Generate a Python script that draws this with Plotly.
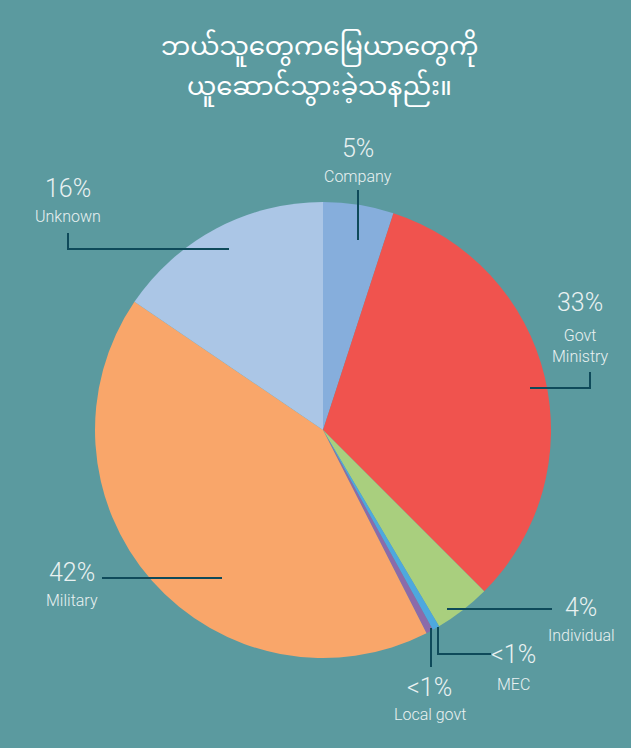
import plotly.graph_objects as go

W, H = 631, 748

categories = ["Company", "Govt<br>Ministry", "Individual", "MEC", "Local govt", "Military", "Unknown"]
values = [5, 32.5, 4, 0.5, 0.5, 42, 15.5]
pct_labels = ["5%", "33%", "4%", "<1%", "<1%", "42%", "16%"]
colors = ["#86AEDC", "#F0534E", "#A9CF7E", "#4EA8DE", "#8B6BAA", "#F9A66A", "#ABC6E6"]

title_lines = ["ဘယ်သူတွေကမြေယာတွေကို", "ယူဆောင်သွားခဲ့သနည်း။"]

BG = "#5B9A9F"
LEAD = "#0E4A5A"
TXT = "#E9F1F1"
FONT = "Roboto, sans-serif"

# pie geometry in pixels
cx, cy, r = 323, 430, 228

def px(x):
    return x / W

def py(y):
    return 1 - y / H

fig = go.Figure(go.Pie(
    labels=categories, values=values, sort=False, direction="clockwise",
    rotation=0, marker=dict(colors=colors, line=dict(width=0)),
    textinfo="none", hoverinfo="none", showlegend=False,
    domain=dict(x=[px(cx - r), px(cx + r)], y=[py(cy + r), py(cy - r)]),
))

# label placement (pixels): (pct x, pct y, name y)
label_pos = [
    (358, 148, 177),
    (580, 302, 346),
    (581, 607, 635),
    (513, 654, 684),
    (430, 687, 714),
    (72, 572, 600),
    (68, 188, 216),
]
# leader paths in pixels (elbow points), ending at pie anchor
leader_paths = [
    [(358, 190), (358, 240)],
    [(590, 372), (590, 388), (530, 388)],
    [(552, 609), (447, 609)],
    [(491, 654), (438, 654), (438, 627)],
    [(431, 667), (431, 628)],
    [(102, 578), (222, 578)],
    [(68, 233), (68, 249), (229, 249)],
]

annotations = []
for (x, yp, yn), pct, name in zip(label_pos, pct_labels, categories):
    annotations.append(dict(x=px(x), y=py(yp), xref="paper", yref="paper",
                            text=pct, showarrow=False, xanchor="center", yanchor="middle",
                            font=dict(family=FONT, size=25, color=TXT, weight=300)))
    annotations.append(dict(x=px(x), y=py(yn), xref="paper", yref="paper",
                            text=name, showarrow=False, xanchor="center", yanchor="middle",
                            font=dict(family=FONT, size=16, color=TXT, weight=300)))

for i, line in enumerate(title_lines):
    annotations.append(dict(x=0.507, y=py(49 + 40 * i), xref="paper", yref="paper", text=line,
                            showarrow=False, xanchor="center", yanchor="middle",
                            font=dict(family="Noto Sans Myanmar, Noto Sans, sans-serif", size=26, color="white")))

shapes = []
for pts in leader_paths:
    d = "M " + " L ".join(f"{px(x)},{py(y)}" for x, y in pts)
    shapes.append(dict(type="path", path=d, xref="paper", yref="paper",
                       line=dict(color=LEAD, width=2)))

fig.update_layout(
    width=W, height=H, margin=dict(l=0, r=0, t=0, b=0),
    paper_bgcolor=BG, plot_bgcolor=BG,
    annotations=annotations, shapes=shapes,
)

fig.write_html("out.html", config={"displayModeBar": False},
               post_script="document.body.style.margin='0';")
